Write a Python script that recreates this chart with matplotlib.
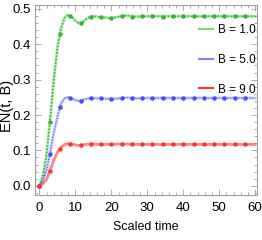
import numpy as np
import matplotlib
matplotlib.use('Agg')
import matplotlib.pyplot as plt
from matplotlib.ticker import MultipleLocator
from matplotlib.lines import Line2D

plt.rc('font', family='Liberation Sans')

# marker times (every 60/21)
t_mark = [0, 2.86, 5.71, 8.57, 11.43, 14.29, 17.14, 20.0, 22.86, 25.71, 28.57,
          31.43, 34.29, 37.14, 40.0, 42.86, 45.71, 48.57, 51.43, 54.29, 57.14]
en_b1_mark = [0.0, 0.18, 0.43, 0.48, 0.46, 0.478, 0.478, 0.473, 0.481, 0.478, 0.479,
              0.480, 0.477, 0.480, 0.479, 0.480, 0.479, 0.480, 0.479, 0.480, 0.479]
en_b5_mark = [0.0, 0.09, 0.224, 0.249, 0.240, 0.247, 0.247, 0.245, 0.249, 0.247, 0.248,
              0.248, 0.247, 0.248, 0.248, 0.248, 0.247, 0.248, 0.248, 0.248, 0.248]
en_b9_mark = [0.0, 0.043, 0.105, 0.119, 0.114, 0.118, 0.117, 0.117, 0.118, 0.117, 0.118,
              0.117, 0.118, 0.117, 0.118, 0.117, 0.118, 0.117, 0.118, 0.117, 0.117]

# curve samples
t_line = [0, 1, 2, 3, 4, 5, 6, 7, 8, 9, 10, 11, 12, 13, 14, 15, 16, 18, 20, 22, 24,
          27, 30, 35, 40, 45, 50, 55, 60]
en_b1 = [0.0, 0.03, 0.09, 0.19, 0.30, 0.39, 0.445, 0.475, 0.483, 0.478, 0.466, 0.459,
         0.462, 0.471, 0.477, 0.479, 0.478, 0.476, 0.473, 0.478, 0.481, 0.478, 0.479,
         0.479, 0.479, 0.479, 0.479, 0.479, 0.479]
en_b5 = [0.0, 0.015, 0.045, 0.095, 0.15, 0.195, 0.232, 0.247, 0.250, 0.247, 0.242, 0.240,
         0.242, 0.246, 0.247, 0.248, 0.247, 0.246, 0.245, 0.247, 0.249, 0.247, 0.248,
         0.248, 0.248, 0.248, 0.248, 0.248, 0.248]
en_b9 = [0.0, 0.006, 0.018, 0.045, 0.072, 0.095, 0.109, 0.117, 0.119, 0.118, 0.115, 0.114,
         0.115, 0.117, 0.118, 0.118, 0.117, 0.117, 0.117, 0.118, 0.118, 0.117, 0.117,
         0.117, 0.117, 0.117, 0.117, 0.117, 0.117]

fig = plt.figure(figsize=(2.62, 2.40), dpi=100)
ax = fig.add_axes([0.134, 0.1875, 0.847, 0.792])

green = '#2db82d'
blue = '#4a4aff'
red = '#ff3333'

# green: faint band + dotted line
ax.plot(t_line, en_b1, color=green, lw=2.2, alpha=0.3)
ax.plot(t_line, en_b1, color=green, lw=1.2, ls=(0, (1, 1)))
ax.plot(t_mark, en_b1_mark, 'o', color=green, ms=3.2, mec='none')
# blue
ax.plot(t_line, en_b5, color=blue, lw=2.2, alpha=0.25)
ax.plot(t_line, en_b5, color=blue, lw=1.0, ls=(0, (1, 1)), alpha=0.8)
ax.plot(t_mark, en_b5_mark, 'o', color=blue, ms=3.2, mec='none')
# red
ax.plot(t_line, en_b9, color=red, lw=2.0, alpha=0.6)
ax.plot(t_mark, en_b9_mark, 'o', color=red, ms=3.2, mec='none')

ax.set_xlim(-1.2, 60.5)
ax.set_ylim(-0.026, 0.511)

ax.xaxis.set_major_locator(MultipleLocator(10))
ax.xaxis.set_minor_locator(MultipleLocator(2))
ax.yaxis.set_major_locator(MultipleLocator(0.1))
ax.yaxis.set_minor_locator(MultipleLocator(0.02))
ax.yaxis.set_major_formatter(matplotlib.ticker.FormatStrFormatter('%.1f'))

for s in ax.spines.values():
    s.set_color('#a0a0a0')
    s.set_linewidth(0.8)
ax.tick_params(which='both', direction='in', top=True, right=True, color='#a0a0a0',
               labelsize=9.5, width=0.6)
ax.tick_params(which='major', length=4)
ax.tick_params(which='minor', length=2)
ax.tick_params(axis='x', pad=5)
ax.tick_params(axis='y', pad=3)

ax.set_xlabel('Scaled time', fontsize=9, labelpad=5)
ax.set_ylabel('EN(t, B)', fontsize=10.5)
ax.yaxis.set_label_coords(-0.095, 0.47)

# legend entries
handles = [Line2D([], [], color=green, lw=1.5, alpha=0.6),
           Line2D([], [], color=blue, lw=1.5, alpha=0.7),
           Line2D([], [], color=red, lw=1.5)]
labels = ['B = 1.0', 'B = 5.0', 'B = 9.0']
ax.legend(handles, labels, loc='upper right', bbox_to_anchor=(1.0, 0.905), frameon=False,
          fontsize=8.5, handlelength=1.2, handletextpad=0.4, labelspacing=1.5,
          borderaxespad=0.0, borderpad=0.1)

fig.savefig('out.png', dpi=100)
